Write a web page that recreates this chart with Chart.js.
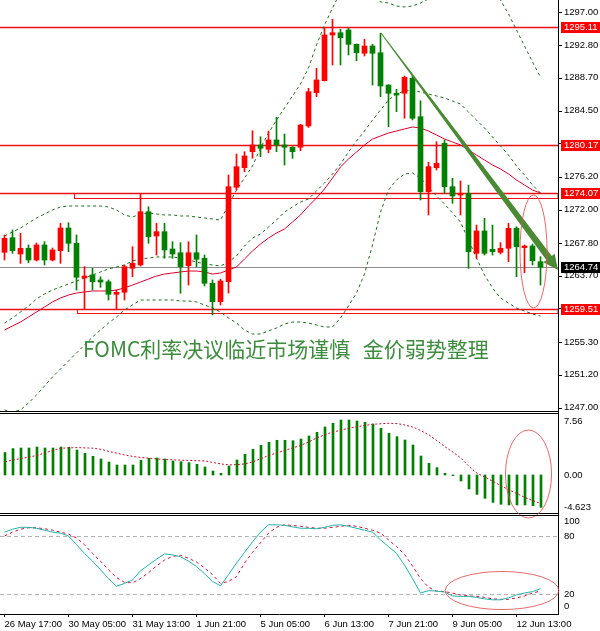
<!DOCTYPE html>
<html>
<head>
<meta charset="utf-8">
<title>XAUUSD H4</title>
<script src="https://cdn.jsdelivr.net/npm/chart.js@4.4.1/dist/chart.umd.min.js"></script>
<style>
  html, body { margin: 0; padding: 0; background: #fff; width: 600px; height: 631px; overflow: hidden; }
  canvas { position: absolute; left: 0; }
  #main { top: 0; }
  #macd { top: 412px; }
  #stoch { top: 514px; }
</style>
</head>
<body>
<canvas id="main" width="600" height="412"></canvas>
<canvas id="macd" width="600" height="108"></canvas>
<canvas id="stoch" width="600" height="117"></canvas>
<script>
// ---- data (4H bars, index 0..67) ----
const timeLabels = ['26 May 17:00', '30 May 05:00', '31 May 13:00', '1 Jun 21:00', '5 Jun 05:00',
  '6 Jun 13:00', '7 Jun 21:00', '9 Jun 05:00', '12 Jun 13:00'];
const timeTickIdx = [0, 8, 16, 24, 32, 40, 48, 56, 64];

const opens = [
  1266.63, 1268.48, 1266.42, 1267.14, 1265.66, 1267.56, 1265.66, 1266.84, 1269.70, 1267.77,
  1263.39, 1263.77, 1263.14, 1262.92, 1261.33, 1261.58, 1264.61, 1265.03, 1271.76, 1268.69,
  1269.24, 1267.05, 1266.58, 1264.94, 1266.58, 1265.88, 1262.72, 1260.40, 1262.92, 1274.84,
  1277.32, 1279.34, 1280.19, 1279.64, 1280.82, 1280.19, 1279.90, 1279.90, 1282.59, 1286.79,
  1288.31, 1294.08, 1294.37, 1294.71, 1292.90, 1291.77, 1292.69, 1291.84, 1287.76, 1286.72,
  1286.72, 1288.61, 1283.76, 1274.29, 1277.32, 1280.40, 1274.92, 1273.87, 1274.09, 1266.51,
  1269.33, 1267.01, 1266.63, 1267.14, 1269.67, 1267.22, 1267.43, 1265.45];
const highs = [
  1268.82, 1269.45, 1269.03, 1267.56, 1267.81, 1267.97, 1267.18, 1270.30, 1270.37, 1268.82,
  1264.82, 1264.61, 1263.55, 1263.14, 1261.87, 1265.03, 1267.34, 1274.00, 1272.39, 1270.30,
  1270.30, 1267.97, 1267.85, 1267.97, 1268.82, 1266.29, 1263.14, 1263.23, 1276.40, 1279.05,
  1279.34, 1281.99, 1281.23, 1281.95, 1283.69, 1281.58, 1279.97, 1282.80, 1287.35, 1289.87,
  1295.05, 1296.06, 1294.80, 1294.93, 1292.95, 1293.54, 1292.90, 1294.29, 1287.80, 1287.22,
  1288.90, 1288.90, 1285.78, 1278.00, 1280.60, 1280.82, 1275.98, 1275.64, 1275.13, 1270.08,
  1270.93, 1270.08, 1267.85, 1270.30, 1269.87, 1267.56, 1267.68, 1266.08];
const lows = [
  1265.66, 1266.51, 1265.24, 1265.32, 1265.54, 1265.03, 1265.54, 1265.24, 1266.71, 1261.87,
  1259.45, 1261.87, 1262.21, 1260.61, 1259.45, 1260.61, 1263.55, 1264.90, 1267.77, 1266.29,
  1265.88, 1265.88, 1261.46, 1262.50, 1264.82, 1262.38, 1258.72, 1259.98, 1261.49, 1274.50,
  1276.81, 1278.51, 1278.71, 1279.21, 1279.34, 1277.66, 1278.51, 1279.47, 1282.40, 1286.29,
  1288.27, 1290.29, 1290.29, 1291.55, 1290.83, 1291.43, 1287.76, 1286.29, 1282.50, 1284.39,
  1283.56, 1283.34, 1273.24, 1271.35, 1277.03, 1274.09, 1272.82, 1271.35, 1264.61, 1265.88,
  1266.29, 1266.29, 1266.42, 1265.45, 1263.55, 1264.06, 1265.03, 1262.50];
const closes = [
  1268.40, 1266.84, 1267.14, 1265.66, 1267.56, 1265.66, 1266.93, 1269.70, 1267.77, 1263.48,
  1263.64, 1262.92, 1262.88, 1261.33, 1261.58, 1264.82, 1265.24, 1271.76, 1268.60, 1269.24,
  1266.93, 1266.42, 1264.82, 1266.58, 1265.75, 1262.72, 1260.40, 1263.01, 1274.92, 1277.45,
  1278.80, 1280.19, 1279.77, 1280.82, 1280.19, 1279.90, 1279.34, 1282.71, 1286.92, 1288.40,
  1294.08, 1294.37, 1293.74, 1292.90, 1291.84, 1292.69, 1291.77, 1287.64, 1286.72, 1286.50,
  1288.74, 1283.56, 1274.29, 1277.45, 1277.88, 1274.92, 1273.75, 1274.09, 1266.71, 1269.33,
  1266.51, 1266.71, 1267.14, 1269.67, 1267.34, 1267.43, 1265.57, 1264.74];

const bbUpper = [
  1268.69, 1269.20, 1269.70, 1270.34, 1270.97, 1271.47, 1271.98, 1272.36, 1272.48, 1272.48,
  1272.48, 1272.48, 1272.48, 1272.36, 1271.98, 1271.35, 1271.09, 1271.47, 1271.60, 1271.47,
  1271.35, 1271.35, 1271.22, 1271.22, 1271.09, 1270.97, 1270.84, 1270.71, 1272.61, 1274.50,
  1276.02, 1277.53, 1279.81, 1281.70, 1283.34, 1284.86, 1286.38, 1287.89, 1289.91, 1292.82,
  1295.34, 1297.49, 1299.51, 1301.03, 1302.29, 1301.66, 1299.76, 1298.25, 1298.12, 1297.74,
  1297.62, 1297.74, 1298.12, 1298.63, 1299.51, 1300.39, 1300.39, 1300.39, 1300.02, 1299.76,
  1300.02, 1299.51, 1298.50, 1296.73, 1294.71, 1292.69, 1290.67, 1288.77];
const bbMiddle = [
  1257.70, 1258.34, 1259.09, 1259.85, 1260.74, 1261.37, 1261.87, 1262.25, 1262.63, 1263.01,
  1263.39, 1263.77, 1264.15, 1264.53, 1264.78, 1265.03, 1265.54, 1265.79, 1265.91, 1266.04,
  1266.04, 1266.04, 1265.91, 1265.66, 1265.41, 1265.16, 1265.03, 1264.90, 1265.41, 1266.17,
  1267.43, 1268.44, 1268.95, 1269.83, 1270.71, 1271.72, 1272.36, 1272.99, 1273.37, 1274.38,
  1275.39, 1276.52, 1277.79, 1279.30, 1280.69, 1281.95, 1283.34, 1284.61, 1285.87, 1286.63,
  1287.01, 1287.13, 1286.88, 1286.63, 1286.38, 1286.12, 1285.74, 1285.36, 1284.35, 1283.34,
  1282.33, 1281.20, 1280.06, 1278.92, 1277.53, 1276.40, 1275.13, 1274.12];
const bbLower = [
  1246.72, 1246.46, 1246.72, 1247.60, 1248.61, 1249.75, 1250.89, 1251.90, 1252.91, 1253.92,
  1254.93, 1255.94, 1256.82, 1257.70, 1258.46, 1259.35, 1259.98, 1260.61, 1260.61, 1260.61,
  1260.61, 1260.61, 1260.48, 1260.48, 1260.36, 1259.98, 1259.60, 1259.09, 1258.34, 1257.70,
  1256.82, 1256.31, 1256.31, 1256.70, 1257.07, 1257.58, 1257.83, 1257.83, 1257.70, 1257.45,
  1257.20, 1257.20, 1258.34, 1259.85, 1261.49, 1263.89, 1267.56, 1271.72, 1274.50, 1275.77,
  1276.52, 1276.65, 1276.02, 1274.88, 1273.75, 1272.73, 1271.60, 1270.46, 1268.19, 1265.91,
  1263.77, 1262.13, 1260.86, 1260.23, 1259.60, 1259.22, 1258.84, 1258.59];
const maLine = [
  1256.82, 1257.33, 1257.83, 1258.46, 1259.09, 1259.73, 1260.36, 1260.86, 1261.24, 1261.49,
  1261.62, 1261.75, 1261.75, 1261.75, 1261.87, 1262.13, 1262.50, 1262.88, 1263.26, 1263.64,
  1263.89, 1264.02, 1264.15, 1264.27, 1264.27, 1264.15, 1263.89, 1264.02, 1264.40, 1264.78,
  1265.79, 1266.80, 1267.68, 1268.44, 1269.07, 1269.58, 1270.46, 1271.35, 1272.48, 1273.49,
  1274.63, 1276.02, 1277.41, 1278.42, 1279.30, 1280.19, 1280.94, 1281.32, 1281.70, 1281.95,
  1282.21, 1282.46, 1282.33, 1281.95, 1281.45, 1280.94, 1280.57, 1280.19, 1279.56, 1278.92,
  1278.29, 1277.66, 1277.16, 1276.52, 1275.77, 1275.13, 1274.50, 1274.12];

const macdHist = [
  3.14, 3.70, 3.78, 3.78, 3.92, 3.78, 3.78, 3.92, 3.87, 3.50,
  3.04, 2.62, 2.24, 1.82, 1.40, 1.40, 1.40, 2.06, 2.34, 2.38,
  2.24, 1.96, 1.87, 1.73, 1.50, 1.12, 0.56, 0.23, 1.26, 2.10,
  2.90, 3.60, 4.16, 4.58, 4.86, 4.86, 4.80, 5.04, 5.46, 5.98,
  6.72, 7.24, 7.70, 7.70, 7.56, 7.38, 7.14, 6.54, 5.84, 5.37,
  4.90, 4.20, 2.66, 1.63, 1.03, 0.23, -0.10, -0.84, -1.96, -2.71,
  -3.27, -3.83, -4.10, -4.20, -4.20, -4.20, -4.30, -4.53];
const macdSignal = [
  1.85, 2.10, 2.30, 2.50, 2.75, 3.10, 3.45, 3.75, 3.80, 3.84,
  3.80, 3.75, 3.60, 3.30, 3.05, 2.80, 2.60, 2.45, 2.35, 2.25,
  2.18, 2.12, 2.08, 2.05, 2.00, 1.97, 1.75, 1.55, 1.42, 1.45,
  1.55, 1.85, 2.30, 2.75, 3.10, 3.45, 3.80, 4.15, 4.65, 5.20,
  5.65, 6.00, 6.30, 6.55, 6.76, 6.95, 7.10, 7.18, 7.24, 7.20,
  7.00, 6.70, 6.20, 5.60, 4.80, 3.95, 3.20, 2.35, 1.20, 0.25,
  -0.30, -0.90, -1.50, -2.10, -2.60, -3.15, -3.60, -4.00];

const stochMain = [
  84, 87, 89, 89, 88, 86, 84, 83, 80, 71,
  62, 54, 45, 36, 28, 31, 34.5, 44, 50, 56,
  61.5, 60.5, 58.5, 54, 48.5, 41, 33, 28.5, 40, 52,
  63, 74, 84, 91.6, 91.6, 91, 89.5, 88, 88, 87.5,
  89, 91, 91.6, 90, 88, 86, 84, 76, 69, 62,
  50, 36, 21, 23.5, 23, 22, 18, 17.5, 17.5, 16.5,
  15, 14, 14, 16, 19, 21, 22.5, 25.5];
const stochSignal = [
  80, 84, 87, 88.5, 88.5, 87.5, 86, 84, 82, 78,
  71, 62, 54, 45, 37, 32, 31.5, 36, 42, 49,
  55, 59, 60, 57, 53, 47, 40, 31, 33, 38,
  52, 63, 73, 83, 89, 91.6, 91, 90, 89, 88,
  88, 89, 90, 91, 90, 88, 86, 83, 76, 69,
  61, 49, 36, 27, 23, 22.5, 21, 19, 18, 17.5,
  16.5, 15, 14.5, 14.5, 16, 18, 21, 23];

const priceTicks = [1297.00, 1292.80, 1288.70, 1284.50, 1280.40, 1276.20, 1272.00,
  1267.80, 1263.70, 1259.60, 1255.30, 1251.20, 1247.00];
const macdTicks = [7.56, 0, -4.623];
const macdTickLabels = ['7.56', '0.00', '-4.623'];
const stochTicks = [100, 80, 20, 0];
const stochLevels = [80, 20];

const levels = [1295.11, 1280.17, 1274.07, 1259.51];
const levelBoxes = [
  { from: 8.69, top: 1274.07, bottom: 1273.55 },
  { from: 9.10, top: 1259.51, bottom: 1259.00 }
];
const currentPrice = 1264.74;
const trendArrow = { from: [47.06, 1294.33], to: [69.19, 1264.40] };
const mainEllipse = { x: 66.13, y: 1266.74, rx: 1.69, ry: 7.14 };
const macdEllipse = { x: 65.44, y: 0.14, rx: 2.88, ry: 6.16 };
const stochEllipse = { x: 62.19, y: 23.6, rx: 7.1, ry: 19.7 };
const titleParts = [
  { text: 'FOMC利率决议临近市场谨慎', x: 9.81, y: 1253.47 },
  { text: '金价弱势整理', x: 44.78, y: 1253.47 }
];

// ---- styles ----
const RED = '#ff0000';
const GREEN = '#008000';
const LEVEL_RED = '#ee1111';
const BAND = '#1f6b1f';
const AXIS_FONT = '9.5px "Liberation Sans", Arial, sans-serif';
const X_MIN = -0.5625;
const X_MAX = 69.1875;

Chart.defaults.font.family = '"Liberation Sans", Arial, sans-serif';

function xy(arr) {
  return arr.map((v, i) => ({ x: i, y: v }));
}

function lineSet(arr, color, dash, order) {
  return {
    type: 'line', data: xy(arr), borderColor: color, borderWidth: 1, borderDash: dash,
    pointRadius: 0, tension: 0, fill: false, order: order
  };
}

function hiddenX(shift) {
  return { type: 'linear', min: X_MIN - shift, max: X_MAX - shift, offset: false, display: false };
}

const candleColors = opens.map((o, i) => (closes[i] >= o ? RED : GREEN));

function drawEllipse(chart, e) {
  const { ctx, scales: { x, y } } = chart;
  const cx = x.getPixelForValue(e.x);
  const cy = y.getPixelForValue(e.y);
  const rx = Math.abs(x.getPixelForValue(e.x + e.rx) - cx);
  const ry = Math.abs(y.getPixelForValue(e.y + e.ry) - cy);
  ctx.save();
  ctx.strokeStyle = 'rgba(226, 80, 80, 0.85)';
  ctx.lineWidth = 1;
  ctx.beginPath();
  ctx.ellipse(cx, cy, rx, ry, 0, 0, Math.PI * 2);
  ctx.stroke();
  ctx.restore();
}

function drawFrame(chart, topRow, bottomRow) {
  const { ctx, chartArea: a } = chart;
  ctx.save();
  ctx.fillStyle = '#000';
  if (topRow !== null) ctx.fillRect(0, topRow, a.right + 1, 1);
  if (bottomRow !== null) ctx.fillRect(0, bottomRow, a.right + 1, 1);
  ctx.fillRect(a.right, 0, 1, bottomRow !== null ? bottomRow + 1 : a.bottom);
  ctx.restore();
}

function drawRightLabels(chart, ticks, labels, clampPad, marks) {
  const { ctx, chartArea: a, scales: { y } } = chart;
  ctx.save();
  ctx.font = AXIS_FONT;
  ctx.fillStyle = '#000';
  ctx.textAlign = 'left';
  ctx.textBaseline = 'middle';
  ticks.forEach((v, k) => {
    let py = y.getPixelForValue(v);
    if (clampPad) py = Math.min(Math.max(py, a.top + clampPad), a.bottom - clampPad);
    if (marks) ctx.fillRect(a.right + 1, Math.round(py), 3, 1);
    ctx.fillText(labels[k], a.right + 6, py);
  });
  ctx.restore();
}

function drawTag(chart, value, bg) {
  const { ctx, chartArea: a, scales: { y } } = chart;
  const py = Math.round(y.getPixelForValue(value));
  ctx.save();
  ctx.fillStyle = bg;
  ctx.fillRect(a.right + 3, py - 5, 39, 11);
  ctx.fillStyle = '#fff';
  ctx.font = AXIS_FONT;
  ctx.textAlign = 'left';
  ctx.textBaseline = 'middle';
  ctx.fillText(value.toFixed(2), a.right + 6, py + 0.5);
  ctx.restore();
}

const mainDecor = {
  id: 'mainDecor',
  beforeDatasetsDraw(chart) {
    const { ctx, chartArea: a, scales: { x, y } } = chart;
    ctx.save();
    ctx.fillStyle = '#8c8c8c';
    ctx.fillRect(0, Math.round(y.getPixelForValue(currentPrice)), a.right, 1);
    ctx.strokeStyle = LEVEL_RED;
    ctx.lineWidth = 1.3;
    levels.forEach(v => {
      const py = Math.round(y.getPixelForValue(v)) + 0.5;
      ctx.beginPath();
      ctx.moveTo(0, py);
      ctx.lineTo(a.right, py);
      ctx.stroke();
    });
    ctx.lineWidth = 1;
    levelBoxes.forEach(b => {
      const l = Math.round(x.getPixelForValue(b.from)) + 0.5;
      const t = Math.round(y.getPixelForValue(b.top)) + 0.5;
      const bt = Math.round(y.getPixelForValue(b.bottom)) + 0.5;
      ctx.strokeRect(l, t, a.right - l, bt - t);
    });
    ctx.restore();
  },
  afterDatasetsDraw(chart) {
    const { ctx, scales: { x, y } } = chart;
    // trend arrow, tapering from thin to thick
    const x0 = x.getPixelForValue(trendArrow.from[0]);
    const y0 = y.getPixelForValue(trendArrow.from[1]);
    const x1 = x.getPixelForValue(trendArrow.to[0]);
    const y1 = y.getPixelForValue(trendArrow.to[1]);
    const len = Math.hypot(x1 - x0, y1 - y0);
    const ux = (x1 - x0) / len, uy = (y1 - y0) / len;
    const nx = -uy, ny = ux;
    const head = 15, hw = 7, w0 = 0.5, w1 = 3.4;
    const bx = x1 - ux * head, by = y1 - uy * head;
    ctx.save();
    ctx.fillStyle = '#4a8a35';
    ctx.beginPath();
    ctx.moveTo(x0 + nx * w0, y0 + ny * w0);
    ctx.lineTo(bx + nx * w1, by + ny * w1);
    ctx.lineTo(bx + nx * hw, by + ny * hw);
    ctx.lineTo(x1, y1);
    ctx.lineTo(bx - nx * hw, by - ny * hw);
    ctx.lineTo(bx - nx * w1, by - ny * w1);
    ctx.lineTo(x0 - nx * w0, y0 - ny * w0);
    ctx.closePath();
    ctx.fill();
    // headline
    ctx.font = '21px "Noto Sans CJK SC", sans-serif';
    ctx.fillStyle = '#3d8c3d';
    ctx.textAlign = 'left';
    ctx.textBaseline = 'alphabetic';
    titleParts.forEach(t => ctx.fillText(t.text, x.getPixelForValue(t.x), y.getPixelForValue(t.y)));
    ctx.restore();
    drawEllipse(chart, mainEllipse);
  },
  afterDraw(chart) {
    drawFrame(chart, null, Math.round(chart.chartArea.bottom));
    drawRightLabels(chart, priceTicks, priceTicks.map(v => v.toFixed(2)), 0, true);
    levels.forEach(v => drawTag(chart, v, RED));
    drawTag(chart, currentPrice, '#000');
  }
};

const macdDecor = {
  id: 'macdDecor',
  afterDraw(chart) {
    drawFrame(chart, 1, 101);
    drawRightLabels(chart, macdTicks, macdTickLabels, 7, false);
    drawEllipse(chart, macdEllipse);
  }
};

const stochDecor = {
  id: 'stochDecor',
  beforeDatasetsDraw(chart) {
    const { ctx, chartArea: a, scales: { y } } = chart;
    ctx.save();
    ctx.strokeStyle = '#b4b4b4';
    ctx.lineWidth = 1;
    ctx.setLineDash([4, 3]);
    stochLevels.forEach(v => {
      const py = Math.round(y.getPixelForValue(v)) + 0.5;
      ctx.beginPath();
      ctx.moveTo(0, py);
      ctx.lineTo(a.right, py);
      ctx.stroke();
    });
    ctx.restore();
  },
  afterDraw(chart) {
    drawFrame(chart, 1, null);
    drawRightLabels(chart, stochTicks, stochTicks.map(String), 7.5, false);
    drawEllipse(chart, stochEllipse);
  }
};

const baseOptions = {
  responsive: false,
  animation: false,
  events: [],
  plugins: { legend: { display: false }, tooltip: { enabled: false } }
};

// ---- main price pane ----
new Chart(document.getElementById('main'), {
  type: 'bar',
  data: {
    datasets: [
      { type: 'bar', data: opens.map((o, i) => ({ x: i, y: [o, closes[i]] })), backgroundColor: candleColors,
        barThickness: 5, grouped: false, minBarLength: 1, order: 0 },
      { type: 'bar', data: lows.map((l, i) => ({ x: i, y: [l, highs[i]] })), backgroundColor: candleColors,
        barThickness: 1, grouped: false, order: 1 },
      lineSet(bbUpper, BAND, [3, 3], 2),
      lineSet(bbMiddle, BAND, [3, 3], 3),
      lineSet(bbLower, BAND, [3, 3], 4),
      lineSet(maLine, '#d9002b', [], 5)
    ]
  },
  options: Object.assign({}, baseOptions, {
    layout: { padding: { right: 42, bottom: 1 } },
    scales: {
      x: hiddenX(0),
      y: { type: 'linear', min: 1246.59, max: 1298.5, beginAtZero: false, display: false }
    }
  }),
  plugins: [mainDecor]
});

// ---- MACD pane (x shifted half a pixel so 2px bars sit on whole pixels) ----
new Chart(document.getElementById('macd'), {
  type: 'bar',
  data: {
    datasets: [
      { type: 'bar', data: xy(macdHist), backgroundColor: GREEN, barThickness: 2, grouped: false, order: 1 },
      lineSet(macdSignal, '#c8102e', [2, 2], 0)
    ]
  },
  options: Object.assign({}, baseOptions, {
    layout: { padding: { right: 42, bottom: 6 } },
    scales: {
      x: hiddenX(0.0625),
      y: { type: 'linear', min: -5.46, max: 8.82, beginAtZero: false, display: false }
    }
  }),
  plugins: [macdDecor]
});

// ---- Stochastic pane with the time axis ----
new Chart(document.getElementById('stoch'), {
  type: 'line',
  data: {
    datasets: [
      lineSet(stochSignal, '#d0103a', [3, 3], 1),
      lineSet(stochMain, '#20b2aa', [], 0)
    ]
  },
  options: Object.assign({}, baseOptions, {
    layout: { padding: { right: 42 } },
    scales: {
      x: {
        type: 'linear', min: X_MIN, max: X_MAX, offset: false,
        afterBuildTicks: s => { s.ticks = timeTickIdx.map(v => ({ value: v })); },
        afterFit: s => { s.height = 17; s.paddingLeft = 0; s.paddingRight = 0; },
        grid: { drawOnChartArea: false, drawTicks: true, tickLength: 3, color: '#000' },
        border: { display: true, color: '#000' },
        ticks: {
          align: 'start', autoSkip: false, maxRotation: 0, padding: 2, color: '#000',
          font: { size: 9.5 },
          callback: (v, i) => timeLabels[i]
        }
      },
      y: { type: 'linear', min: -0.69, max: 102.76, display: false }
    }
  }),
  plugins: [stochDecor]
});
</script>
</body>
</html>
